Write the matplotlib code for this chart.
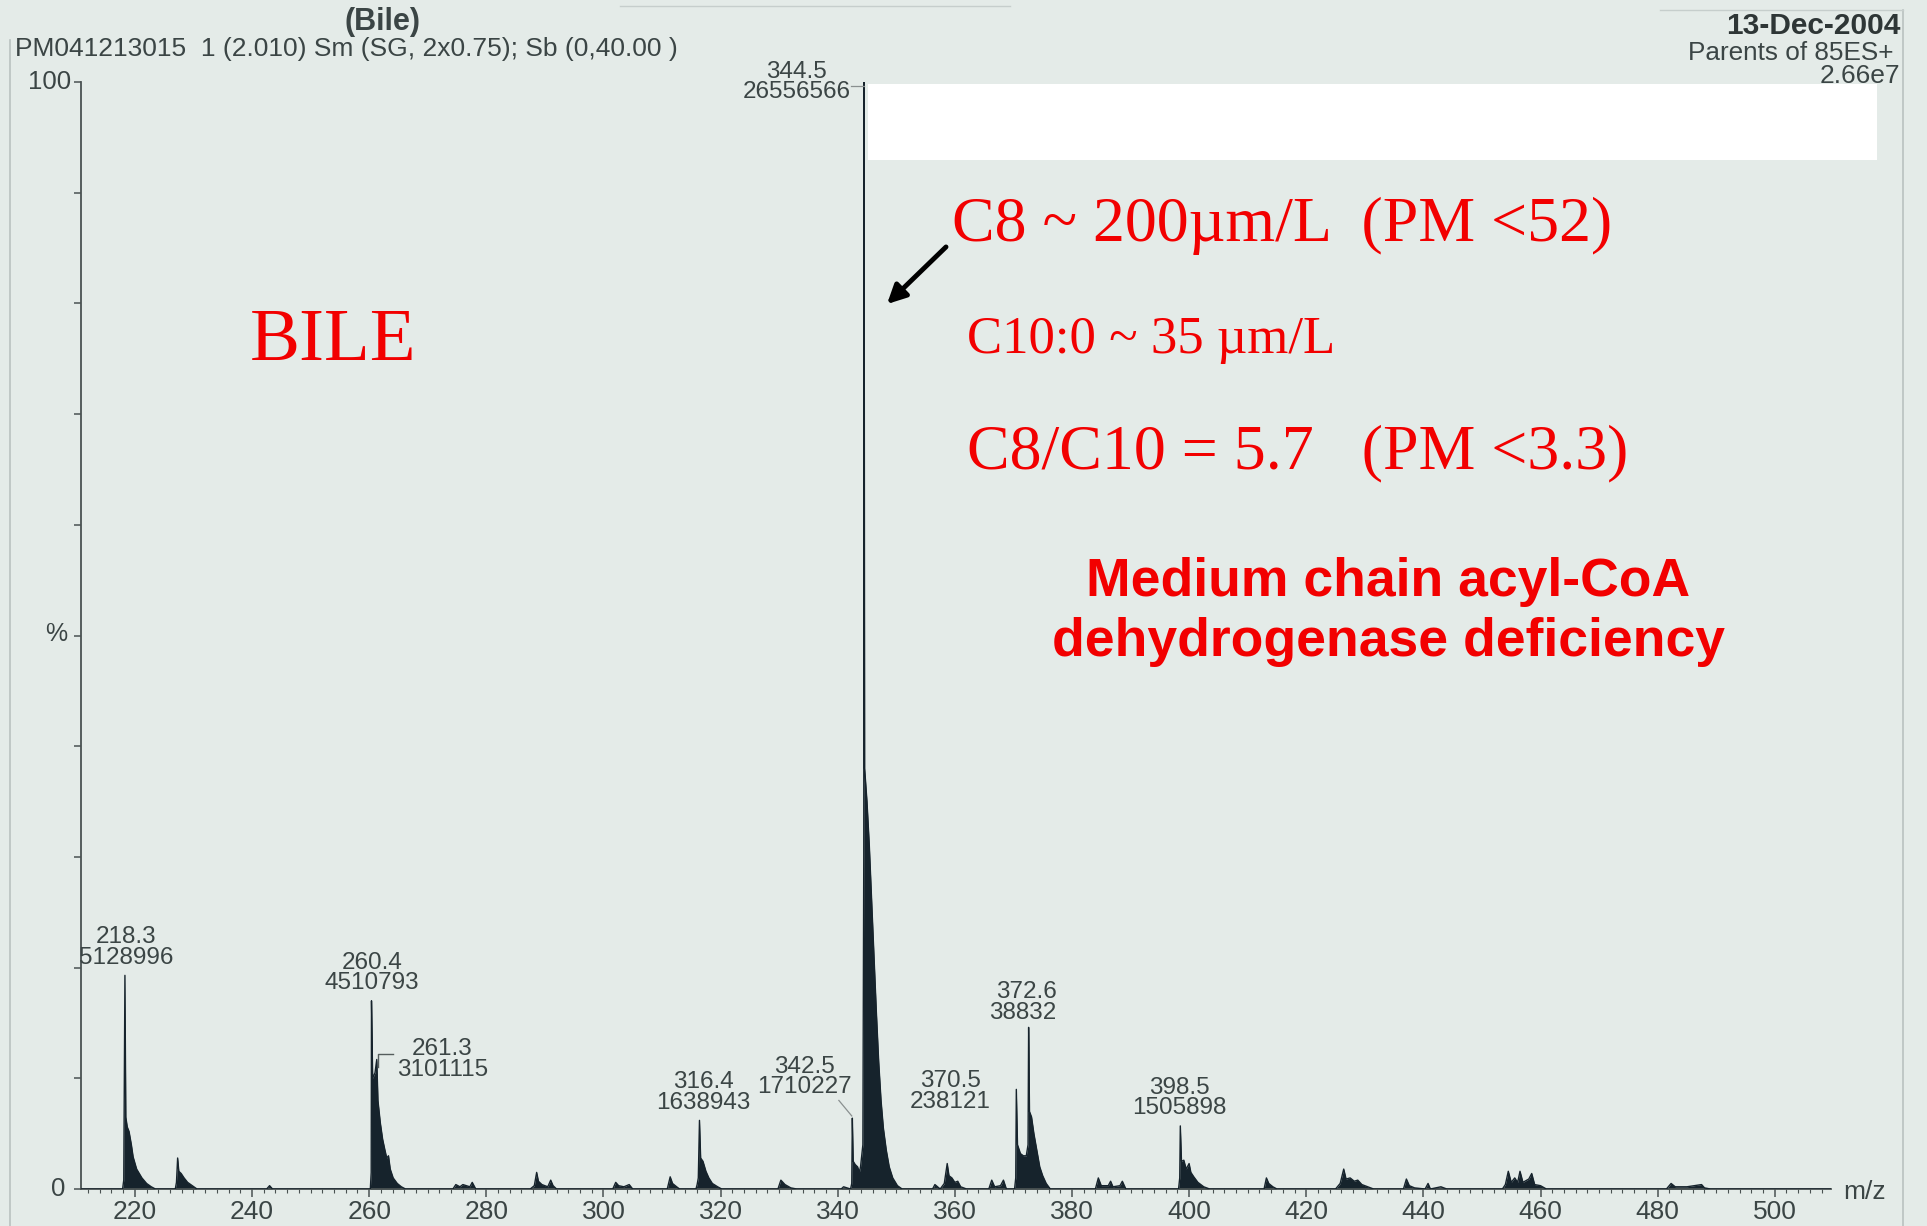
import matplotlib
matplotlib.use("Agg")
import matplotlib.pyplot as plt
from matplotlib.patches import Rectangle
from matplotlib.ticker import MultipleLocator
from matplotlib.lines import Line2D

# ---------------- data ----------------
# spectrum profile (m/z, relative intensity %)
spec_mz = [210.8, 217.9, 218.1, 218.3, 218.45, 218.7, 219.0, 219.4, 219.7, 220.3, 221.2, 222.0, 222.8, 223.5,
           226.9, 227.1, 227.3, 227.5, 227.9, 228.4, 229.0, 229.8, 230.6,
           242.5, 243.0, 243.5,
           260.2, 260.35, 260.4, 260.6, 261.0, 261.3, 261.5, 261.9, 262.3, 262.7, 263.0, 263.3, 263.6, 264.1, 264.8, 265.5, 266.2,
           274.3, 274.8, 275.5, 276.0, 277.2, 277.6, 278.2,
           287.5, 288.2, 288.6, 288.9, 289.5, 290.5, 291.0, 291.4, 292.0,
           301.6, 302.1, 302.6, 303.5, 304.4, 305.0,
           310.9, 311.4, 311.8, 312.5, 313.0,
           315.8, 316.0, 316.2, 316.4, 316.6, 317.0, 317.5, 318.0, 318.6, 319.5, 320.2,
           329.8, 330.3, 331.0, 332.0, 333.0,
           340.6, 341.0, 341.6, 342.2, 342.4, 342.5, 342.65, 343.0, 343.4, 343.7, 343.9, 344.3, 344.45,
           344.5, 344.6, 345.0, 345.4, 345.8, 346.2, 346.6, 347.0, 347.4, 347.8, 348.3, 348.8, 349.4, 350.2, 351.0,
           356.2, 356.6, 357.5, 358.2, 358.7, 359.0, 359.5, 360.0, 360.5, 361.0, 362.0,
           365.8, 366.3, 366.8, 367.8, 368.3, 368.8,
           370.2, 370.4, 370.5, 370.7, 371.2, 371.7, 372.2, 372.5, 372.6, 372.75, 373.1, 373.5, 374.0, 374.5, 375.0, 375.6, 376.3,
           384.0, 384.5, 385.0, 386.2, 386.6, 387.0, 388.2, 388.6, 389.2,
           398.2, 398.4, 398.5, 398.7, 399.1, 399.5, 400.0, 400.3, 400.8, 401.5, 402.5, 403.5,
           412.8, 413.2, 413.6, 414.3, 415.0,
           425.0, 425.8, 426.4, 426.8, 427.5, 428.2, 428.8, 429.5, 430.5, 431.5,
           436.6, 437.1, 437.6, 438.5, 440.3, 440.8, 441.2, 443.0, 444.0,
           453.5, 454.0, 454.5, 455.0, 455.6, 456.1, 456.5, 457.0, 458.0, 458.5, 459.0, 460.0, 461.0,
           481.5, 482.3, 483.0, 485.0, 487.5, 488.0, 489.0, 509.6]
spec_pct = [0.0, 0.0, 0.8, 19.3, 6.5, 5.6, 5.2, 4.0, 2.9, 1.8, 1.0, 0.5, 0.2, 0.0,
            0.0, 0.6, 2.8, 1.6, 1.4, 1.0, 0.6, 0.3, 0.0,
            0.0, 0.3, 0.0,
            0.0, 1.5, 17.0, 10.0, 10.5, 11.7, 8.0, 6.0, 4.5, 3.5, 2.8, 3.0, 1.8, 1.0, 0.5, 0.2, 0.0,
            0.0, 0.4, 0.2, 0.4, 0.2, 0.6, 0.0,
            0.0, 0.3, 1.5, 0.7, 0.4, 0.2, 0.8, 0.3, 0.0,
            0.0, 0.6, 0.3, 0.2, 0.4, 0.0,
            0.0, 1.1, 0.5, 0.2, 0.0,
            0.0, 0.4, 1.0, 6.2, 2.8, 2.5, 1.6, 1.0, 0.5, 0.2, 0.0,
            0.0, 0.8, 0.4, 0.1, 0.0,
            0.0, 0.2, 0.1, 0.0, 0.5, 6.4, 2.5, 2.2, 2.0, 1.5, 2.0, 4.0, 30.0,
            100.0, 38.0, 35.0, 31.0, 26.0, 21.0, 16.0, 11.5, 8.0, 5.5, 3.5, 2.0, 1.0, 0.3, 0.0,
            0.0, 0.4, 0.0, 0.5, 2.3, 1.2, 1.0, 0.6, 0.7, 0.2, 0.0,
            0.0, 0.8, 0.2, 0.3, 0.8, 0.0,
            0.0, 1.0, 9.0, 4.0, 3.2, 3.0, 3.0, 4.0, 14.6, 7.0, 6.5, 5.0, 3.5, 2.0, 1.2, 0.5, 0.0,
            0.0, 1.0, 0.3, 0.3, 0.7, 0.2, 0.3, 0.7, 0.0,
            0.0, 1.0, 5.7, 2.5, 2.6, 1.8, 2.3, 1.5, 1.1, 0.6, 0.2, 0.0,
            0.0, 1.0, 0.5, 0.2, 0.0,
            0.0, 0.5, 1.8, 0.9, 1.0, 0.7, 0.8, 0.4, 0.2, 0.0,
            0.0, 0.9, 0.3, 0.1, 0.0, 0.5, 0.0, 0.2, 0.0,
            0.0, 0.4, 1.6, 0.6, 1.0, 0.6, 1.6, 0.6, 0.9, 1.4, 0.4, 0.3, 0.0,
            0.0, 0.5, 0.2, 0.2, 0.4, 0.1, 0.0, 0.0]

# labelled peaks
peak_mz = [218.3, 260.4, 261.3, 316.4, 342.5, 344.5, 370.5, 372.6, 398.5]
peak_pct = [19.3, 17.0, 11.7, 6.2, 6.4, 100.0, 9.0, 14.6, 5.7]
peak_text = ["218.3\n5128996", "260.4\n4510793", "261.3\n3101115", "316.4\n1638943",
             "342.5\n1710227", "344.5\n26556566", "370.5\n238121", "372.6\n38832", "398.5\n1505898"]

x_ticks = list(range(220, 501, 20))

# ---------------- figure ----------------
W, H = 1927, 1226
bg = "#e4ebe8"
grey = "#3b4545"
red = "#f20000"
sans = ["Liberation Sans", "DejaVu Sans"]
serif = ["Liberation Serif", "DejaVu Serif"]

fig = plt.figure(figsize=(W / 100, H / 100), dpi=100)
fig.patch.set_facecolor(bg)

def fx(x):
    return x / W

def fy(y):
    return 1 - y / H

ax = fig.add_axes([fx(81), fy(1189), (1831 - 81) / W, (1189 - 82) / H])
ax.set_facecolor(bg)
ax.patch.set_alpha(0)
ax.set_xlim(210.8, 509.6)
ax.set_ylim(0, 100)

ax.fill_between(spec_mz, 0, spec_pct, color="#16232c", lw=0, zorder=2)
ax.plot(spec_mz, spec_pct, color="#16232c", lw=1.0, zorder=3)

for s in ["top", "right"]:
    ax.spines[s].set_visible(False)
for s in ["left", "bottom"]:
    ax.spines[s].set_color("#4a5252")
    ax.spines[s].set_linewidth(1.3)

ax.set_xticks(x_ticks)
ax.set_xticklabels([str(t) for t in x_ticks], fontsize=19, color=grey, family=sans)
ax.xaxis.set_minor_locator(MultipleLocator(2))
ax.tick_params(axis="x", which="major", length=6, width=1.1, color="#4a5252", pad=2)
ax.tick_params(axis="x", which="minor", length=3, width=0.8, color="#4a5252")
ax.set_yticks(list(range(0, 101, 10)))
ax.set_yticklabels([])
ax.tick_params(axis="y", which="major", length=5, width=1.1, color="#4a5252")

# y labels
fig.text(fx(71), fy(82), "100", fontsize=18.5, color=grey, family=sans, ha="right", va="center")
fig.text(fx(56), fy(634), "%", fontsize=18, color=grey, family=sans, ha="center", va="center")
fig.text(fx(58), fy(1189), "0", fontsize=18.5, color=grey, family=sans, ha="center", va="center")
fig.text(fx(1843), fy(1192), "m/z", fontsize=19, color=grey, family=sans, ha="left", va="center")

# peak labels
lab_kw = dict(fontsize=17.5, color=grey, family=sans, linespacing=0.92, clip_on=False, zorder=5)
label_pos = {
    "218.3": (218.5, 19.3 + 0.6, "center", "bottom"),
    "260.4": (260.5, 17.0 + 0.6, "center", "bottom"),
    "261.3": (272.5, 11.7, "center", "center"),
    "316.4": (317.0, 6.2 + 0.6, "center", "bottom"),
    "342.5": (334.4, 8.2, "center", "bottom"),
    "344.5": (333.0, 100.0, "center", "center"),
    "370.5": (359.2, 8.8, "center", "center"),
    "372.6": (377.4, 14.6 + 0.3, "right", "bottom"),
    "398.5": (398.4, 5.7 + 0.6, "center", "bottom"),
}
for mz, pct, txt in zip(peak_mz, peak_pct, peak_text):
    x, y, ha, va = label_pos[txt.split("\n")[0]]
    ax.text(x, y, txt, ha=ha, va=va, multialignment=ha if ha != "center" else "center", **lab_kw)

# leader lines
ax.plot([261.5, 261.5, 264.0], [11.0, 12.2, 12.2], color="#555d5d", lw=1.0, clip_on=False, zorder=4)
ax.plot([340.2, 342.4], [8.0, 6.6], color="#8a9090", lw=0.9, clip_on=False, zorder=4)
ax.plot([342.3, 344.5], [99.6, 99.6], color="#8a9090", lw=0.9, clip_on=False, zorder=4)

# header texts
fig.text(fx(344), fy(30), "(Bile)", fontsize=22, fontweight="bold", color=grey, family=sans, ha="left", va="baseline")
fig.text(fx(15), fy(56), "PM041213015  1 (2.010) Sm (SG, 2x0.75); Sb (0,40.00 )", fontsize=19,
         color=grey, family=sans, ha="left", va="baseline")
fig.text(fx(1900), fy(34), "13-Dec-2004", fontsize=21.5, fontweight="bold", color="#2e3636",
         family=sans, ha="right", va="baseline")
fig.text(fx(1893), fy(60), "Parents of 85ES+", fontsize=18.8, color=grey, family=sans, ha="right", va="baseline")
fig.text(fx(1900), fy(83), "2.66e7", fontsize=19, color=grey, family=sans, ha="right", va="baseline")

# outer frame lines of the scanned page
fig.add_artist(Line2D([fx(10), fx(10)], [fy(40), fy(1226)], color="#b9c2c0", lw=1.2))
fig.add_artist(Line2D([fx(1903), fx(1903)], [fy(10), fy(1226)], color="#b9c2c0", lw=1.2))
fig.add_artist(Line2D([fx(1660), fx(1903)], [fy(10), fy(10)], color="#c6cecc", lw=1.0))
fig.add_artist(Line2D([fx(620), fx(1010)], [fy(6), fy(6)], color="#c6cecc", lw=1.0))

# white box covering the top right
fig.add_artist(Rectangle((fx(868), fy(160)), (1877 - 868) / W, (160 - 84) / H,
                         transform=fig.transFigure, facecolor="white", edgecolor="none", zorder=6))

# red annotations
fig.text(fx(250), fy(360), "BILE", fontsize=54, color=red, family=serif, ha="left", va="baseline")
fig.text(fx(952), fy(241), "C8 ~ 200µm/L  (PM <52)", fontsize=46, color=red, family=serif,
         ha="left", va="baseline")
fig.text(fx(967), fy(353), "C10:0 ~ 35 µm/L", fontsize=38, color=red, family=serif,
         ha="left", va="baseline")
fig.text(fx(967), fy(468), "C8/C10 = 5.7   (PM <3.3)", fontsize=46, color=red, family=serif,
         ha="left", va="baseline")
fig.text(fx(1388), fy(596), "Medium chain acyl-CoA", fontsize=38.5, fontweight="bold", color=red,
         family=sans, ha="center", va="baseline")
fig.text(fx(1388), fy(656), "dehydrogenase deficiency", fontsize=38.5, fontweight="bold", color=red,
         family=sans, ha="center", va="baseline")

# arrow
ax.annotate("", xy=(885, H - 306), xycoords="figure pixels",
            xytext=(948, H - 245), textcoords="figure pixels",
            arrowprops=dict(arrowstyle="-|>", color="black", lw=3.5, mutation_scale=28))

fig.savefig("out.png", dpi=100, facecolor=bg)
